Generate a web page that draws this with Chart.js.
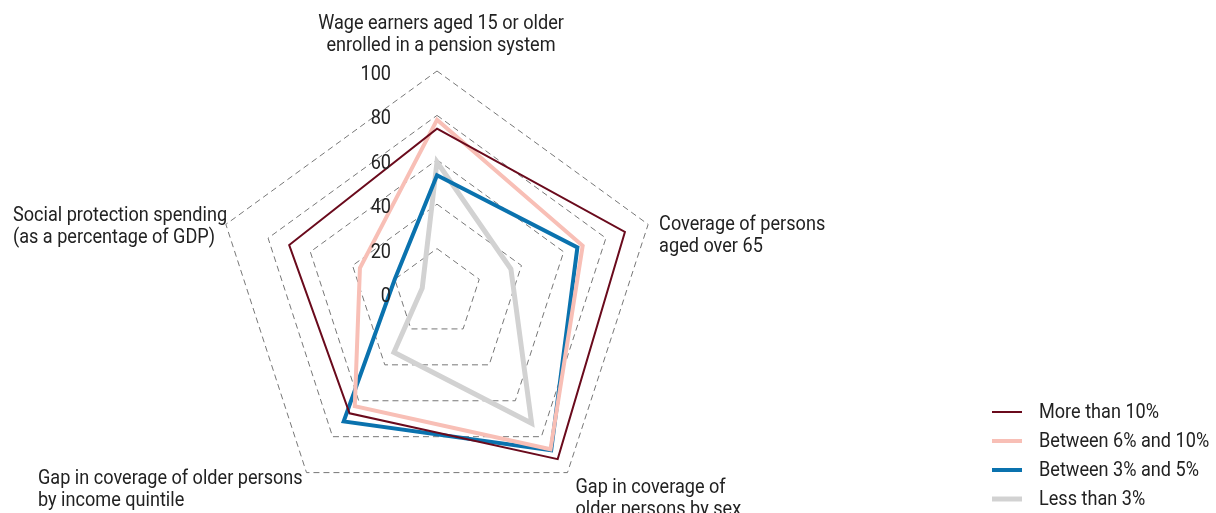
<!DOCTYPE html>
<html>
<head>
<meta charset="utf-8">
<script src="https://cdn.jsdelivr.net/npm/chart.js@4.4.0/dist/chart.umd.min.js"></script>
<style>
  html, body { margin: 0; padding: 0; background: #fff; overflow: hidden; }
  #wrap { position: relative; width: 1216px; height: 530px; }
</style>
</head>
<body>
<div id="wrap"><canvas id="chart"></canvas></div>
<script>
// axis labels (clockwise from top)
const axisLabels = [
    ["Wage earners aged 15 or older", "enrolled in a pension system"],
    ["Coverage of persons", "aged over 65"],
    ["Gap in coverage of", "older persons by sex"],
    ["Gap in coverage of older persons", "by income quintile"],
    ["Social protection spending", "(as a percentage of GDP)"]
];
const tickValues = [0, 20, 40, 60, 80, 100];

const seriesNames = ["More than 10%", "Between 6% and 10%", "Between 3% and 5%", "Less than 3%"];
const moreThan10 = [74, 89, 92.5, 67, 70];
const between6and10 = [78, 69, 87, 63, 36.5];
const between3and5 = [53, 66.5, 87.5, 71.5, 20];
const lessThan3 = [59, 35, 72.5, 33, 7];

const colors = ["#6a0a1c", "#f8bfb6", "#0a72ae", "#d2d2d2"];
const widths = [2, 4, 4, 5];

const FONT = '"Roboto", sans-serif';
const TEXT = "#222";
const SQUEEZE = 0.905; // reference uses a condensed face

// text squeezed horizontally around its anchor
function narrowText(ctx, text, x, y, align) {
    ctx.save();
    ctx.translate(x, y);
    ctx.scale(SQUEEZE, 1);
    ctx.textAlign = align;
    ctx.fillText(text, 0, 0);
    ctx.restore();
}

// tick labels, point labels and legend
const labelPlugin = {
    id: "labels",
    afterDraw(chart) {
        const ctx = chart.ctx;
        const r = chart.scales.r;
        const cx = r.xCenter, cy = r.yCenter;
        ctx.save();
        ctx.fillStyle = TEXT;
        ctx.font = "20px " + FONT;
        ctx.textBaseline = "middle";

        // ticks, left of the vertical axis
        tickValues.forEach(v => {
            const d = r.getDistanceFromCenterForValue(v);
            narrowText(ctx, String(v), cx - 46, cy - d + 4, "right");
        });

        // point labels
        const R = r.drawingArea;
        const spots = [
            { x: cx + 4, y: cy - R - 47, align: "center" },
            { x: cx + R * 0.951 + 11, y: cy - R * 0.309 + 1, align: "left" },
            { x: cx + R * 0.588 + 8, y: cy + R * 0.809 + 15, align: "left" },
            { x: 38, y: cy + 186, align: "left" },
            { x: 13, y: cy - 77, align: "left" }
        ];
        axisLabels.forEach((lines, i) => {
            const s = spots[i];
            lines.forEach((t, j) => narrowText(ctx, t, s.x, s.y + j * 22, s.align));
        });

        // legend
        seriesNames.forEach((name, i) => {
            const y = 412 + i * 29;
            ctx.strokeStyle = colors[i];
            ctx.lineWidth = widths[i];
            ctx.beginPath();
            ctx.moveTo(992, y);
            ctx.lineTo(1022, y);
            ctx.stroke();
            narrowText(ctx, name, 1039, y + 1, "left");
        });
        ctx.restore();
    }
};

const seriesData = [moreThan10, between6and10, between3and5, lessThan3];

new Chart(document.getElementById("chart"), {
    type: "radar",
    data: {
        labels: axisLabels.map(l => l.join(" ")),
        datasets: seriesData.map((d, i) => ({
            label: seriesNames[i],
            data: d,
            borderColor: colors[i],
            backgroundColor: "transparent",
            borderWidth: widths[i],
            pointRadius: 0,
            fill: false,
            tension: 0
        }))
    },
    options: {
        responsive: true,
        maintainAspectRatio: false,
        animation: false,
        layout: { padding: { left: 215, right: 557, top: 71, bottom: 15 } },
        plugins: {
            legend: { display: false },
            tooltip: { enabled: false }
        },
        scales: {
            r: {
                min: 0,
                max: 100,
                ticks: { display: false, stepSize: 20 },
                pointLabels: { display: false },
                angleLines: { display: false },
                grid: { color: "#777", lineWidth: 1 },
                border: { dash: [6, 4] }
            }
        }
    },
    plugins: [labelPlugin]
});
</script>
</body>
</html>
